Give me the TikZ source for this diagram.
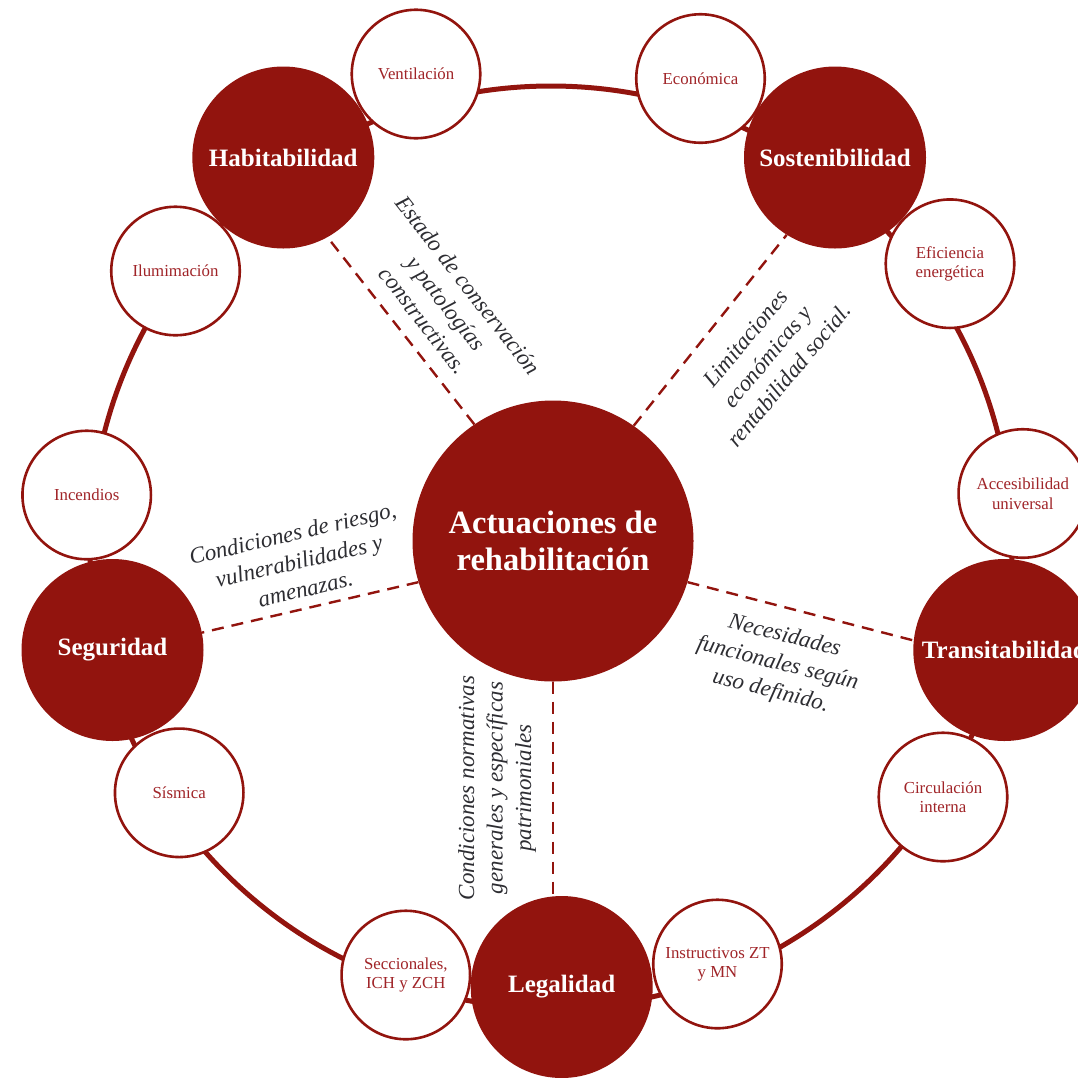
\documentclass[tikz,border=0pt]{standalone}
\usepackage{fontspec}
\setmainfont{Liberation Serif}
\usetikzlibrary{backgrounds}
\definecolor{dred}{RGB}{146,20,14}
\definecolor{stext}{RGB}{160,36,40}
\definecolor{lgray}{RGB}{45,45,50}
\begin{document}
\begin{tikzpicture}[x=1pt,y=-1pt,
  bignode/.style={circle,fill=dred,minimum size=182pt,inner sep=0pt,text=white,font=\bfseries\fontsize{25}{30}\selectfont},
  centernode/.style={circle,fill=dred,minimum size=281pt,inner sep=0pt,text=white,align=center,font=\bfseries\fontsize{32.5}{37}\selectfont},
  smallnode/.style={circle,draw=dred,line width=2.6pt,fill=white,minimum size=128.5pt,inner sep=0pt,text=stext,align=center,font=\fontsize{16.8}{19.5}\selectfont},
  lbl/.style={text=lgray,align=center,inner sep=0pt,font=\itshape\fontsize{23}{28.5}\selectfont},
  dashline/.style={draw=dred,line width=2.4pt,dash pattern=on 12pt off 8pt},
  ringline/.style={draw=dred,line width=5pt},
]
\useasboundingbox (0,0) rectangle (1078,1077);

% central node
\node[centernode] (ctr) at (553,541) {Actuaciones de\\rehabilitaci\'on};

% main nodes
\node[bignode] (hab) at (283.3,157.5) {Habitabilidad};
\node[bignode] (sos) at (835,157.5) {Sostenibilidad};
\node[bignode] (seg) at (112.5,650) {Seguridad};
\node[bignode] (tra) at (1004.3,650) {Transitabilidad};
\node[bignode] (leg) at (561.7,987) {Legalidad};

% small nodes
\node[smallnode] (ven) at (416,74) {Ventilaci\'on};
\node[smallnode] (eco) at (700.5,78.5) {Econ\'omica};
\node[smallnode] (ilu) at (175.5,271) {Ilumimaci\'on};
\node[smallnode] (efi) at (950,263.7) {Eficiencia\\energ\'etica};
\node[smallnode] (inc) at (86.7,495) {Incendios};
\node[smallnode] (acc) at (1022.8,493.5) {Accesibilidad\\universal};
\node[smallnode] (sis) at (179.2,792.8) {S\'{\i}smica};
\node[smallnode] (cir) at (943,797) {Circulaci\'on\\interna};
\node[smallnode] (sec) at (405.8,975) {Seccionales,\\ICH y ZCH};
\node[smallnode] (ins) at (717.5,964) {Instructivos ZT\\y MN};

% ring and dashed connectors behind the nodes
\begin{scope}[on background layer]
  \coordinate (ringc) at (551,547);
  \draw[ringline] (ringc) circle[radius=461pt];
  \draw[dashline] (ctr.124) -- (hab.-61);
  \draw[dashline] (ctr.55) -- (sos.238);
  \draw[dashline] (ctr.197) -- (seg.11);
  \draw[dashline] (ctr.-17) -- (tra.174);
  \draw[dashline] (ctr.south) -- (ctr.south |- leg.north);
\end{scope}

% labels
\node[lbl,rotate=-52] (lhab) at (446,303) {Estado de conservaci\'on\\y patolog\'{\i}as\\constructivas.};
\node[lbl,rotate=50] (lsos) at (767.5,357) {Limitaciones\\econ\'omicas y\\rentabilidad social.};
\node[lbl,rotate=13] (lseg) at (299,561) {Condiciones de riesgo,\\vulnerabilidades y\\amenazas.};
\node[lbl,rotate=-14] (ltra) at (777.5,664) {Necesidades\\funcionales seg\'un\\uso definido.};
\node[lbl,rotate=90] (lleg) at (497,788) {Condiciones normativas\\generales y espec\'{\i}ficas\\patrimoniales};
\end{tikzpicture}
\end{document}
